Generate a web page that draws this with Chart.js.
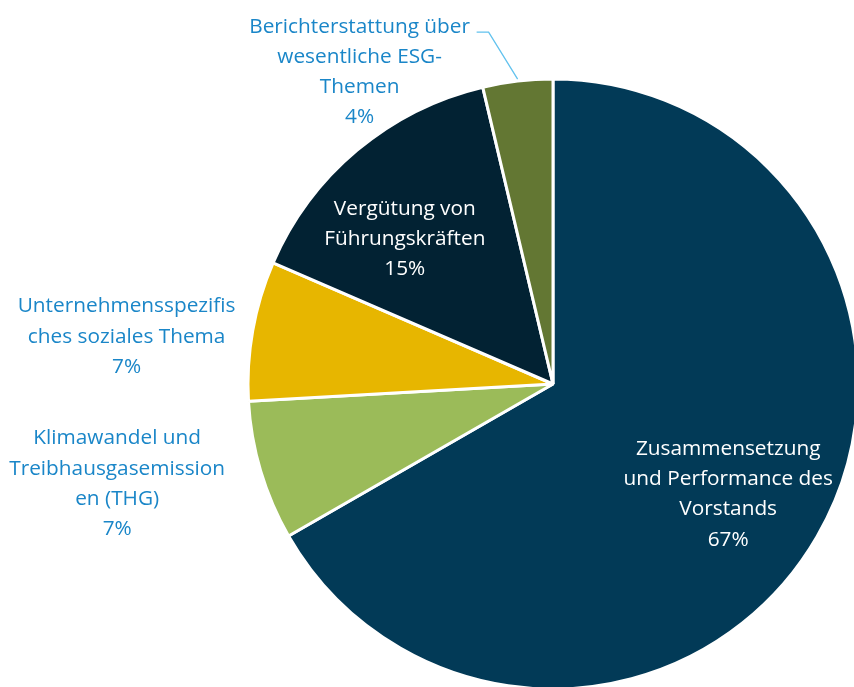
<!DOCTYPE html>
<html lang="de">
<head>
  <meta charset="UTF-8">
  <title>ESG Themen</title>
  <script src="https://cdn.jsdelivr.net/npm/chart.js"></script>
  <style>
    html, body {
      margin: 0;
      padding: 0;
      background: white;
      overflow: hidden;
    }
    #wrap {
      position: absolute;
      left: 0;
      top: 0;
      width: 1106px;
      height: 768px;
    }
  </style>
</head>
<body>

<div id="wrap"><canvas id="pie"></canvas></div>

<script>
  // Daten (Reihenfolge im Uhrzeigersinn ab 12 Uhr)
  const categories = [
    "Zusammensetzung und Performance des Vorstands",
    "Klimawandel und Treibhausgasemissionen (THG)",
    "Unternehmensspezifisches soziales Thema",
    "Vergütung von Führungskräften",
    "Berichterstattung über wesentliche ESG-Themen"
  ];
  const shares = [66.7, 7.4, 7.4, 14.8, 3.7];
  const pctLabels = ["67%", "7%", "7%", "15%", "4%"];
  const labelLines = [
    ["Zusammensetzung", "und Performance des", "Vorstands"],
    ["Klimawandel und", "Treibhausgasemission", "en (THG)"],
    ["Unternehmensspezifis", "ches soziales Thema"],
    ["Vergütung von", "Führungskräften"],
    ["Berichterstattung über", "wesentliche ESG-", "Themen"]
  ];
  const colors = ["#023a57", "#9bbb59", "#e7b600", "#022233", "#637733"];

  // Platzierung der Beschriftungen: Faktor des Radius + Feinkorrektur
  const labelPos = [
    { f: 0.675, dx: -3, dy: 7, color: "white" },
    { f: 1.46, dx: -9, dy: -27, color: "#1a86c8" },
    { f: 1.41, dx: -3, dy: 28, color: "#1a86c8" },
    { f: 0.68, dx: -15, dy: 14, color: "white" },
    { f: 1.0, dx: -158, dy: -9, color: "#1a86c8", leader: true }
  ];

  const FONT = '20.8px "Open Sans", sans-serif';
  const LINE_H = 30.3;

  const labelPlugin = {
    id: "sliceLabels",
    afterDatasetsDraw(chart) {
      const ctx = chart.ctx;
      const arcs = chart.getDatasetMeta(0).data;
      ctx.save();
      ctx.font = FONT;
      ctx.textAlign = "center";
      ctx.textBaseline = "middle";
      arcs.forEach((arc, i) => {
        const p = labelPos[i];
        const mid = (arc.startAngle + arc.endAngle) / 2;
        const r = arc.outerRadius;
        const ax = arc.x + Math.cos(mid) * r * p.f;
        const ay = arc.y + Math.sin(mid) * r * p.f;
        const lx = ax + p.dx;
        const ly = ay + p.dy;
        const lines = labelLines[i].concat([pctLabels[i]]);
        if (p.leader) {
          ctx.strokeStyle = "#62c2ee";
          ctx.lineWidth = 1.3;
          ctx.beginPath();
          ctx.moveTo(ax, ay - 2);
          ctx.lineTo(ax - 29, ay - 49);
          ctx.lineTo(ax - 41, ay - 49);
          ctx.stroke();
        }
        ctx.fillStyle = p.color;
        const top = ly - (lines.length - 1) * LINE_H / 2;
        lines.forEach((t, k) => ctx.fillText(t, lx, top + k * LINE_H));
      });
      ctx.restore();
    }
  };

  new Chart(document.getElementById("pie"), {
    type: "pie",
    data: {
      labels: categories,
      datasets: [{
        data: shares,
        backgroundColor: colors,
        borderColor: "white",
        borderWidth: 3
      }]
    },
    options: {
      responsive: true,
      maintainAspectRatio: false,
      animation: false,
      radius: 305,
      layout: { padding: 0 },
      plugins: {
        legend: { display: false },
        tooltip: { enabled: false }
      }
    },
    plugins: [labelPlugin]
  });
</script>

</body>
</html>
